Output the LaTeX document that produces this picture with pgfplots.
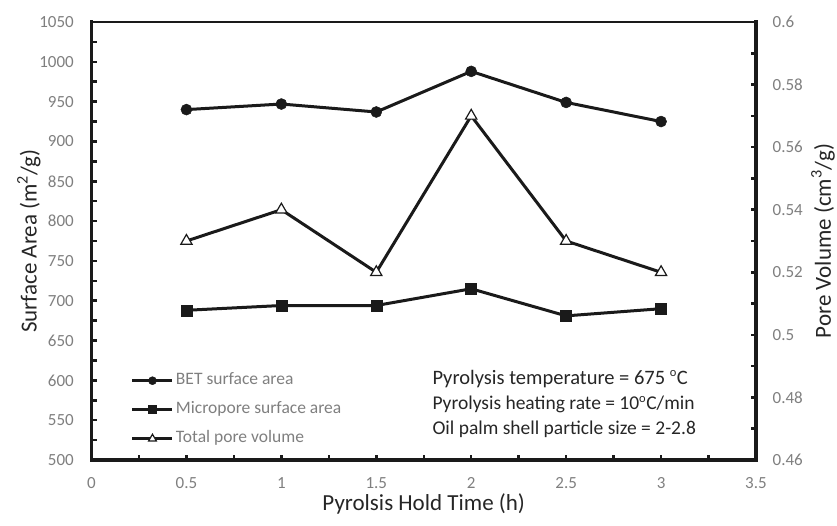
\documentclass[border=0pt]{standalone}
\usepackage{fontspec}
\setmainfont{Carlito}
\usepackage{pgfplots}
\pgfplotsset{compat=1.18}
\definecolor{ln}{HTML}{1A1A1A}
\definecolor{tk}{HTML}{7F7F7F}
\definecolor{tx}{HTML}{262626}
\newcommand{\degsup}{\textsuperscript{\fontsize{12.5}{12.5}\selectfont o}}

\begin{document}
\begin{tikzpicture}
\path[use as bounding box] (-91.5pt,-65pt) rectangle (745.5pt,460pt);
\begin{axis}[
  at={(0pt,0pt)}, anchor=south west,
  scale only axis, width=664.5pt, height=438pt,
  xmin=0, xmax=3.5, ymin=500, ymax=1050,
  axis x line*=bottom, axis y line*=left,
  axis line style={-, line width=3.5pt, color=ln, line cap=rect},
  xtick={0,0.5,1,1.5,2,2.5,3,3.5},
  ytick={500,550,600,650,700,750,800,850,900,950,1000,1050},
  minor x tick num=1, minor y tick num=1,
  tick align=inside,
  major tick length=5pt, minor tick length=5pt,
  tick style={line width=2.5pt, color=ln},
  scaled ticks=false,
  /pgf/number format/assume math mode=true,
  /pgf/number format/1000 sep={},
  ticklabel style={font=\fontsize{17}{20}\selectfont, text=tk, inner sep=0pt},
  xticklabel style={anchor=center, yshift=-23pt},
  yticklabel style={anchor=east, xshift=-17.5pt},
  xlabel={Pyrolsis Hold Time (h)},
  ylabel={Surface Area (m\textsuperscript{2}/g)},
  label style={font=\fontsize{23}{28}\selectfont, text=tx},
  xlabel style={at={(axis description cs:0.5,0)}, anchor=center, yshift=-44pt},
  ylabel style={at={(axis description cs:-0.0941,0.5)}, anchor=center},
  clip=false,
]
\draw[line width=2pt, color=ln] (rel axis cs:0,1) -- (rel axis cs:1,1);
\addplot[color=ln, line width=3pt, mark=*, mark size=5.5pt, mark options={solid, fill=ln, line width=0.5pt}]
  coordinates {(0.5,940) (1,947) (1.5,937) (2,988) (2.5,949) (3,925)};
\addplot[color=ln, line width=3pt, mark=square*, mark size=5.5pt, mark options={solid, fill=ln, line width=0.5pt}]
  coordinates {(0.5,688) (1,694) (1.5,694) (2,715) (2.5,681) (3,690)};
\node[anchor=base west, inner sep=0pt, font=\fontsize{20.5}{24}\selectfont, text=tx] at (rel axis cs:0.5129,0.1724) {Pyrolysis temperature = 675 \degsup C};
\node[anchor=base west, inner sep=0pt, font=\fontsize{19.5}{23}\selectfont, text=tx] at (rel axis cs:0.5129,0.1142) {Pyrolysis heating rate = 10\degsup C/min};
\node[anchor=base west, inner sep=0pt, font=\fontsize{19.5}{23}\selectfont, text=tx] at (rel axis cs:0.5129,0.0582) {Oil palm shell particle size = 2-2.8};
\end{axis}
\begin{axis}[
  at={(0pt,0pt)}, anchor=south west,
  scale only axis, width=664.5pt, height=438pt,
  xmin=0, xmax=3.5, ymin=0.46, ymax=0.6,
  axis x line=none, axis y line*=right,
  axis line style={-, line width=3.5pt, color=ln, line cap=rect},
  ytick={0.46,0.48,0.5,0.52,0.54,0.56,0.58,0.6},
  minor y tick num=1,
  tick align=inside,
  major tick length=5pt, minor tick length=5pt,
  tick style={line width=2.5pt, color=ln},
  scaled ticks=false,
  /pgf/number format/assume math mode=true,
  /pgf/number format/fixed,
  /pgf/number format/precision=2,
  ticklabel style={font=\fontsize{17}{20}\selectfont, text=tk, inner sep=0pt},
  yticklabel style={anchor=west, xshift=16.5pt},
  ylabel={Pore Volume (cm\textsuperscript{3}/g)},
  label style={font=\fontsize{23}{28}\selectfont, text=tx},
  ylabel style={at={(axis description cs:1.1008,0.5)}, anchor=center, rotate=0},
  clip=false,
  legend style={at={(axis description cs:0.0594,0.1993)}, anchor=north west, draw=none, fill=none,
    inner sep=0pt, outer sep=0pt, font=\fontsize{17.5}{21}\selectfont, text=tk,
    row sep=13pt, column sep=2pt, nodes={inner sep=0pt, text height=12pt, text depth=4pt}},
  legend cell align=left,
  legend image code/.code={\draw[mark repeat=2,mark phase=2] plot coordinates {(0pt,0pt)(20pt,0pt)(40pt,0pt)};},
]
\addlegendimage{color=ln, line width=3pt, mark=*, mark size=4pt, mark options={solid, fill=ln, line width=0.5pt}}
\addlegendentry{BET surface area}
\addlegendimage{color=ln, line width=3pt, mark=square*, mark size=4pt, mark options={solid, fill=ln, line width=0.5pt}}
\addlegendentry{Micropore surface area}
\addlegendimage{color=ln, line width=3pt, mark=triangle*, mark size=4.5pt, mark options={solid, fill=white, draw=ln, line width=1.2pt}}
\addlegendentry{Total pore volume}
\addplot[color=ln, line width=3pt, mark=triangle*, mark size=6.5pt, mark options={solid, fill=white, draw=ln, line width=1.2pt}, forget plot]
  coordinates {(0.5,0.53) (1,0.54) (1.5,0.52) (2,0.57) (2.5,0.53) (3,0.52)};
\end{axis}
\end{tikzpicture}
\end{document}
